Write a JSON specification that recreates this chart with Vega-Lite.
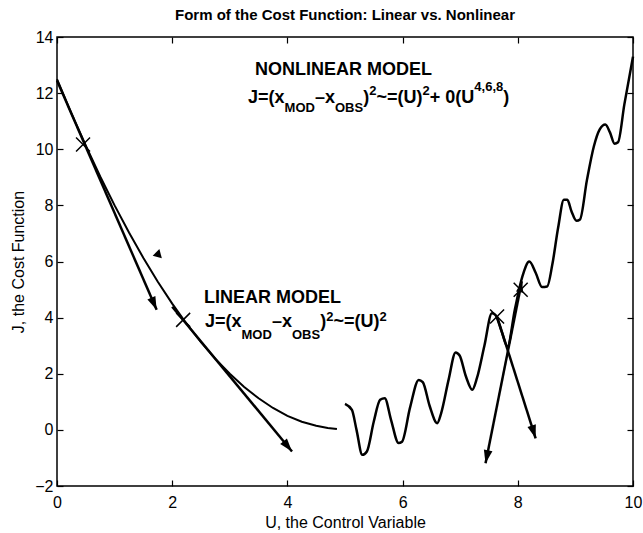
{
  "$schema": "https://vega.github.io/schema/vega-lite/v6.json",
  "autosize": {"type": "none"},
  "width": 576,
  "height": 449,
  "padding": {"left": 57, "top": 37, "right": 10, "bottom": 47},
  "background": "white",
  "title": {"text": "Form of the Cost Function: Linear vs. Nonlinear", "fontSize": 15, "fontWeight": "bold", "font": "Liberation Sans", "color": "black", "anchor": "middle", "baseline": "alphabetic", "offset": -6},
  "config": {
    "font": "Liberation Sans",
    "view": {"stroke": "black", "strokeWidth": 1.5},
    "axis": {"domain": false, "grid": false, "tickColor": "black", "tickWidth": 1.2, "tickSize": -6, "labelColor": "black", "labelFontSize": 16, "labelFont": "Liberation Sans", "labelFlush": false, "labelOverlap": false, "titleFont": "Liberation Sans", "titleFontSize": 16, "titleFontWeight": "normal", "titleColor": "black"}
  },
  "datasets": {
    "parabola": [
      {"U": 0, "J": 12.5}, {"U": 0.25, "J": 11.28}, {"U": 0.5, "J": 10.125}, {"U": 0.75, "J": 9.031},
      {"U": 1.0, "J": 8.0}, {"U": 1.25, "J": 7.031}, {"U": 1.5, "J": 6.125}, {"U": 1.75, "J": 5.281},
      {"U": 2.0, "J": 4.5}, {"U": 2.25, "J": 3.781}, {"U": 2.5, "J": 3.125}, {"U": 2.75, "J": 2.531},
      {"U": 3.0, "J": 2.0}, {"U": 3.25, "J": 1.531}, {"U": 3.5, "J": 1.125}, {"U": 3.75, "J": 0.781},
      {"U": 4.0, "J": 0.5}, {"U": 4.25, "J": 0.29}, {"U": 4.5, "J": 0.15}, {"U": 4.7, "J": 0.07}, {"U": 4.86, "J": 0.03}
    ],
    "nonlinear": [
      {"U": 5.00, "J": 0.93}, {"U": 5.12, "J": 0.71}, {"U": 5.20, "J": 0.0}, {"U": 5.30, "J": -0.89},
      {"U": 5.38, "J": -0.77}, {"U": 5.50, "J": 0.3}, {"U": 5.61, "J": 1.07}, {"U": 5.69, "J": 1.13},
      {"U": 5.80, "J": 0.35}, {"U": 5.93, "J": -0.47}, {"U": 5.99, "J": -0.42}, {"U": 6.13, "J": 0.8},
      {"U": 6.28, "J": 1.78}, {"U": 6.35, "J": 1.7}, {"U": 6.47, "J": 0.85}, {"U": 6.60, "J": 0.24},
      {"U": 6.67, "J": 0.6}, {"U": 6.80, "J": 1.8}, {"U": 6.92, "J": 2.76}, {"U": 6.99, "J": 2.65},
      {"U": 7.10, "J": 1.9}, {"U": 7.21, "J": 1.43}, {"U": 7.29, "J": 1.84}, {"U": 7.42, "J": 3.0},
      {"U": 7.55, "J": 4.16}, {"U": 7.61, "J": 4.10}, {"U": 7.72, "J": 3.5}, {"U": 7.82, "J": 2.97},
      {"U": 7.95, "J": 4.3}, {"U": 8.08, "J": 5.47}, {"U": 8.20, "J": 6.0}, {"U": 8.31, "J": 5.6},
      {"U": 8.42, "J": 5.09}, {"U": 8.51, "J": 5.11}, {"U": 8.60, "J": 5.9}, {"U": 8.70, "J": 7.2},
      {"U": 8.80, "J": 8.2}, {"U": 8.86, "J": 8.2}, {"U": 8.93, "J": 7.8}, {"U": 9.02, "J": 7.45},
      {"U": 9.08, "J": 7.5}, {"U": 9.20, "J": 8.9}, {"U": 9.32, "J": 10.1}, {"U": 9.42, "J": 10.7},
      {"U": 9.52, "J": 10.88}, {"U": 9.60, "J": 10.6}, {"U": 9.68, "J": 10.2}, {"U": 9.74, "J": 10.25},
      {"U": 9.85, "J": 11.6}, {"U": 10.0, "J": 13.3}
    ],
    "arrows": [
      {"arrow": "a1", "U": 0.0, "J": 12.45}, {"arrow": "a1", "U": 1.73, "J": 4.28},
      {"arrow": "a2", "U": 2.0, "J": 4.39}, {"arrow": "a2", "U": 4.08, "J": -0.77},
      {"arrow": "a3", "U": 7.64, "J": 4.04}, {"arrow": "a3", "U": 8.31, "J": -0.30},
      {"arrow": "a4", "U": 7.44, "J": -1.19}, {"arrow": "a4", "U": 8.07, "J": 5.3}
    ],
    "markers": [
      {"U": 0.452, "J": 10.17}, {"U": 2.19, "J": 3.92}, {"U": 7.64, "J": 4.04}, {"U": 8.05, "J": 4.99}
    ],
    "heads": [
      {"head": "h1", "U": 1.73, "J": 4.28},
      {"head": "h2", "U": 4.08, "J": -0.77},
      {"head": "h3", "U": 8.31, "J": -0.30},
      {"head": "h4", "U": 7.44, "J": -1.19},
      {"head": "h5", "U": 8.07, "J": 5.3},
      {"head": "h6", "U": 1.73, "J": 6.24}
    ],
    "labels": [
      {"txt": "LINEAR MODEL", "U": 2.551, "J": 4.52, "level": "base"},
      {"txt": "J=(x", "U": 2.569, "J": 3.675, "level": "base"},
      {"txt": "MOD", "U": 3.203, "J": 3.247, "level": "script"},
      {"txt": "–x", "U": 3.732, "J": 3.675, "level": "base"},
      {"txt": "OBS", "U": 4.080, "J": 3.247, "level": "script"},
      {"txt": ")", "U": 4.570, "J": 3.675, "level": "base"},
      {"txt": "2", "U": 4.675, "J": 3.889, "level": "script"},
      {"txt": "~=(U)", "U": 4.800, "J": 3.675, "level": "base"},
      {"txt": "2", "U": 5.600, "J": 3.889, "level": "script"},
      {"txt": "NONLINEAR MODEL", "U": 3.438, "J": 12.63, "level": "base"},
      {"txt": "J=(x", "U": 3.316, "J": 11.655, "level": "base"},
      {"txt": "MOD", "U": 3.951, "J": 11.31, "level": "script"},
      {"txt": "–x", "U": 4.478, "J": 11.655, "level": "base"},
      {"txt": "OBS", "U": 4.826, "J": 11.31, "level": "script"},
      {"txt": ")", "U": 5.317, "J": 11.655, "level": "base"},
      {"txt": "2", "U": 5.421, "J": 11.95, "level": "script"},
      {"txt": "~=(U)", "U": 5.546, "J": 11.655, "level": "base"},
      {"txt": "2", "U": 6.346, "J": 11.95, "level": "script"},
      {"txt": "+ 0(U", "U": 6.471, "J": 11.655, "level": "base"},
      {"txt": "4,6,8", "U": 7.245, "J": 12.06, "level": "script"},
      {"txt": ")", "U": 7.748, "J": 11.655, "level": "base"}
    ]
  },
  "resolve": {"axis": {"x": "independent", "y": "independent"}},
  "layer": [
    {
      "data": {"name": "parabola"},
      "mark": {"type": "line", "color": "black", "strokeWidth": 2},
      "encoding": {
        "x": {"field": "U", "type": "quantitative", "scale": {"domain": [0, 10], "nice": false, "zero": false},
              "axis": {"orient": "bottom", "values": [0, 2, 4, 6, 8, 10], "title": "U, the Control Variable", "labelPadding": 14, "titlePadding": 4}},
        "y": {"field": "J", "type": "quantitative", "scale": {"domain": [-2, 14], "nice": false, "zero": false},
              "axis": {"orient": "left", "values": [-2, 0, 2, 4, 6, 8, 10, 12, 14], "title": "J, the Cost Function", "labelPadding": 10, "titlePadding": 8}}
      }
    },
    {
      "data": {"name": "parabola"},
      "mark": {"type": "line", "strokeOpacity": 0},
      "encoding": {
        "x": {"field": "U", "type": "quantitative", "scale": {"domain": [0, 10], "nice": false, "zero": false},
              "axis": {"orient": "top", "values": [0, 2, 4, 6, 8, 10], "labels": false, "title": null}},
        "y": {"field": "J", "type": "quantitative", "scale": {"domain": [-2, 14], "nice": false, "zero": false},
              "axis": {"orient": "right", "values": [-2, 0, 2, 4, 6, 8, 10, 12, 14], "labels": false, "title": null}}
      }
    },
    {
      "data": {"name": "nonlinear"},
      "mark": {"type": "line", "color": "black", "strokeWidth": 2.5, "interpolate": "monotone"},
      "encoding": {
        "x": {"field": "U", "type": "quantitative", "axis": null},
        "y": {"field": "J", "type": "quantitative", "axis": null}
      }
    },
    {
      "data": {"name": "arrows"},
      "mark": {"type": "line", "color": "black", "strokeWidth": 2.5},
      "encoding": {
        "x": {"field": "U", "type": "quantitative", "axis": null},
        "y": {"field": "J", "type": "quantitative", "axis": null},
        "detail": {"field": "arrow"}
      }
    },
    {
      "data": {"name": "markers"},
      "mark": {"type": "point", "shape": "M-1,-1L1,1M-1,1L1,-1", "filled": false, "color": "black", "strokeWidth": 1.5, "size": 196, "opacity": 1},
      "encoding": {
        "x": {"field": "U", "type": "quantitative", "axis": null},
        "y": {"field": "J", "type": "quantitative", "axis": null}
      }
    },
    {
      "data": {"name": "heads"},
      "transform": [{"filter": "datum.head == 'h1'"}],
      "mark": {"type": "point", "shape": "M0,0L0.33,1L-0.33,1Z", "filled": true, "color": "black", "size": 700, "angle": 156.5, "opacity": 1},
      "encoding": {"x": {"field": "U", "type": "quantitative", "axis": null}, "y": {"field": "J", "type": "quantitative", "axis": null}}
    },
    {
      "data": {"name": "heads"},
      "transform": [{"filter": "datum.head == 'h2'"}],
      "mark": {"type": "point", "shape": "M0,0L0.33,1L-0.33,1Z", "filled": true, "color": "black", "size": 700, "angle": 140.4, "opacity": 1},
      "encoding": {"x": {"field": "U", "type": "quantitative", "axis": null}, "y": {"field": "J", "type": "quantitative", "axis": null}}
    },
    {
      "data": {"name": "heads"},
      "transform": [{"filter": "datum.head == 'h3'"}],
      "mark": {"type": "point", "shape": "M0,0L0.33,1L-0.33,1Z", "filled": true, "color": "black", "size": 700, "angle": 162.4, "opacity": 1},
      "encoding": {"x": {"field": "U", "type": "quantitative", "axis": null}, "y": {"field": "J", "type": "quantitative", "axis": null}}
    },
    {
      "data": {"name": "heads"},
      "transform": [{"filter": "datum.head == 'h4'"}],
      "mark": {"type": "point", "shape": "M0,0L0.33,1L-0.33,1Z", "filled": true, "color": "black", "size": 700, "angle": 191.3, "opacity": 1},
      "encoding": {"x": {"field": "U", "type": "quantitative", "axis": null}, "y": {"field": "J", "type": "quantitative", "axis": null}}
    },
    {
      "data": {"name": "heads"},
      "transform": [{"filter": "datum.head == 'h5'"}],
      "mark": {"type": "point", "shape": "M0,0L0.33,1L-0.33,1Z", "filled": true, "color": "black", "size": 500, "angle": 11.3, "opacity": 1},
      "encoding": {"x": {"field": "U", "type": "quantitative", "axis": null}, "y": {"field": "J", "type": "quantitative", "axis": null}}
    },
    {
      "data": {"name": "heads"},
      "transform": [{"filter": "datum.head == 'h6'"}],
      "mark": {"type": "point", "shape": "triangle-left", "filled": true, "color": "black", "size": 90, "angle": -15, "opacity": 1},
      "encoding": {"x": {"field": "U", "type": "quantitative", "axis": null}, "y": {"field": "J", "type": "quantitative", "axis": null}}
    },
    {
      "data": {"name": "labels"},
      "transform": [{"filter": "datum.level == 'base'"}],
      "mark": {"type": "text", "align": "left", "baseline": "alphabetic", "font": "Liberation Sans", "fontWeight": "bold", "fontSize": 18, "color": "black"},
      "encoding": {
        "x": {"field": "U", "type": "quantitative", "axis": null},
        "y": {"field": "J", "type": "quantitative", "axis": null},
        "text": {"field": "txt"}
      }
    },
    {
      "data": {"name": "labels"},
      "transform": [{"filter": "datum.level == 'script'"}],
      "mark": {"type": "text", "align": "left", "baseline": "alphabetic", "font": "Liberation Sans", "fontWeight": "bold", "fontSize": 13, "color": "black"},
      "encoding": {
        "x": {"field": "U", "type": "quantitative", "axis": null},
        "y": {"field": "J", "type": "quantitative", "axis": null},
        "text": {"field": "txt"}
      }
    }
  ]
}
